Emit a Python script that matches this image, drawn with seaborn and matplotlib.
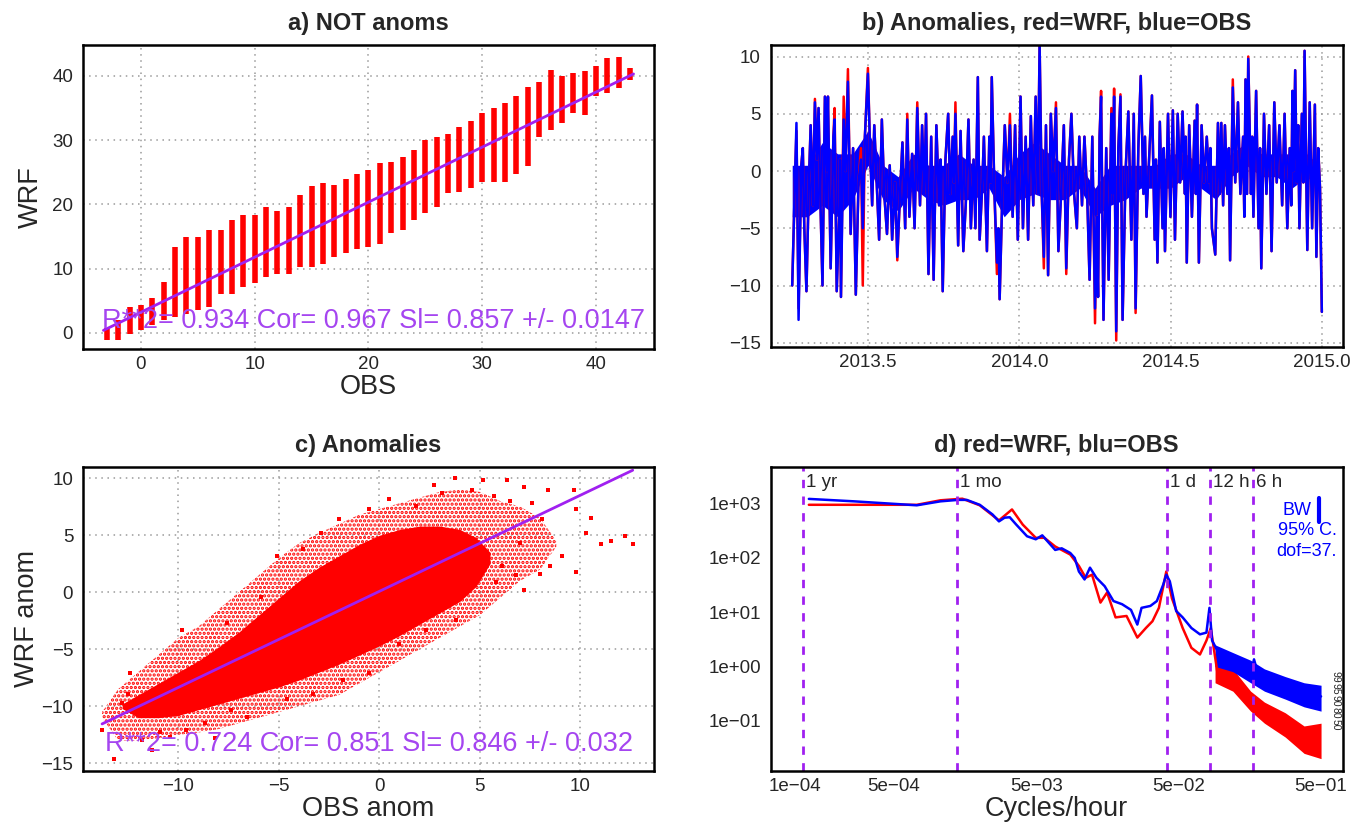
import numpy as np
import seaborn as sns
import matplotlib.pyplot as plt

# ---- panel a: raw values, one column of points per integer OBS value ----
a_obs = [-3, -2, -1, 0, 1, 2, 3, 4, 5, 6, 7, 8, 9, 10, 11, 12, 13, 14, 15, 16, 17, 18, 19, 20,
         21, 22, 23, 24, 25, 26, 27, 28, 29, 30, 31, 32, 33, 34, 35, 36, 37, 38, 39, 40, 41, 42, 43]
a_lo = [-1.1, -1.1, -0.1, 0.4, 1.2, 2.0, 2.5, 3.0, 3.5, 4.0, 6.1, 6.1, 7.2, 7.7, 8.7, 9.2, 9.2, 10.3,
        10.3, 10.8, 11.8, 12.4, 13.1, 13.4, 13.9, 15.5, 16.0, 17.6, 18.6, 19.6, 21.7, 22.0, 22.5, 23.5,
        23.5, 23.5, 24.8, 25.9, 30.5, 31.6, 32.6, 34.2, 33.9, 36.8, 37.3, 38.1, 39.4]
a_hi = [0.7, 2.0, 4.0, 4.3, 5.4, 8.0, 13.4, 14.9, 14.9, 16.0, 16.0, 17.6, 18.3, 18.3, 19.6, 19.0, 19.6,
        21.5, 22.8, 23.3, 23.0, 24.0, 24.8, 25.4, 26.4, 26.6, 27.4, 28.5, 30.0, 30.5, 31.0, 32.0, 33.0,
        34.2, 35.0, 35.7, 36.8, 38.3, 39.1, 40.9, 40.0, 40.4, 40.7, 41.5, 42.8, 43.0, 41.2]
a_fit_x = [-3.3, 43.3]
a_fit_y = [0.4, 40.3]
a_stats = "R**2= 0.934 Cor= 0.967 Sl= 0.857 +/- 0.0147"

# ---- panel b: anomaly time series (envelope of the hourly record) ----
b_time = [2013.250, 2013.258, 2013.264, 2013.271, 2013.280, 2013.285, 2013.290, 2013.297, 2013.305, 2013.311,
          2013.318, 2013.325, 2013.331, 2013.337, 2013.343, 2013.350, 2013.358, 2013.364, 2013.368, 2013.377,
          2013.386, 2013.390, 2013.397, 2013.406, 2013.408, 2013.411, 2013.420, 2013.426, 2013.434, 2013.443,
          2013.451, 2013.460, 2013.469, 2013.477, 2013.483, 2013.490, 2013.500, 2013.507, 2013.514, 2013.521,
          2013.529, 2013.537, 2013.546, 2013.554, 2013.563, 2013.572, 2013.580, 2013.590, 2013.597, 2013.606,
          2013.614, 2013.623, 2013.630, 2013.637, 2013.646, 2013.654, 2013.663, 2013.672, 2013.679, 2013.686,
          2013.692, 2013.700, 2013.709, 2013.717, 2013.726, 2013.735, 2013.740, 2013.747, 2013.756, 2013.765,
          2013.772, 2013.780, 2013.784, 2013.789, 2013.798, 2013.806, 2013.815, 2013.823, 2013.832, 2013.840,
          2013.849, 2013.855, 2013.863, 2013.869, 2013.878, 2013.883, 2013.893, 2013.901, 2013.905, 2013.909,
          2013.918, 2013.926, 2013.931, 2013.935, 2013.943, 2013.952, 2013.961, 2013.969, 2013.978, 2013.986,
          2013.995, 2014.004, 2014.012, 2014.021, 2014.029, 2014.038, 2014.046, 2014.054, 2014.061, 2014.067,
          2014.074, 2014.081, 2014.088, 2014.095, 2014.104, 2014.112, 2014.121, 2014.129, 2014.138, 2014.147,
          2014.155, 2014.164, 2014.172, 2014.181, 2014.190, 2014.198, 2014.207, 2014.215, 2014.224, 2014.232,
          2014.241, 2014.250, 2014.255, 2014.260, 2014.265, 2014.270, 2014.278, 2014.287, 2014.295, 2014.304,
          2014.308, 2014.313, 2014.320, 2014.327, 2014.334, 2014.341, 2014.351, 2014.360, 2014.370, 2014.378,
          2014.384, 2014.393, 2014.401, 2014.410, 2014.415, 2014.420, 2014.430, 2014.438, 2014.447, 2014.451,
          2014.456, 2014.464, 2014.473, 2014.477, 2014.481, 2014.491, 2014.499, 2014.507, 2014.514, 2014.523,
          2014.531, 2014.539, 2014.547, 2014.549, 2014.553, 2014.561, 2014.570, 2014.579, 2014.583, 2014.587,
          2014.593, 2014.602, 2014.610, 2014.619, 2014.627, 2014.631, 2014.636, 2014.647, 2014.656, 2014.662,
          2014.667, 2014.673, 2014.679, 2014.687, 2014.692, 2014.696, 2014.705, 2014.713, 2014.722, 2014.730,
          2014.739, 2014.743, 2014.747, 2014.752, 2014.756, 2014.765, 2014.769, 2014.773, 2014.782, 2014.790,
          2014.795, 2014.799, 2014.808, 2014.816, 2014.825, 2014.833, 2014.842, 2014.850, 2014.859, 2014.868,
          2014.876, 2014.885, 2014.893, 2014.898, 2014.902, 2014.906, 2014.911, 2014.916, 2014.921, 2014.925,
          2014.933, 2014.938, 2014.942, 2014.951, 2014.959, 2014.967, 2014.976, 2014.981, 2014.987, 2014.993,
          2014.999]
b_obs = [-10, -2, 4.2, -13, 0.5, 2, -5, -10.5, -1, 4,
         -3, 6, 1, 5.5, -2.5, -10, 6.5, 0, 6.5, -8.5,
         3, 4.5, -10.5, -3, 1, -11, 4.5, 0, 7.8, -5.5,
         2, -10.8, -1, 1, -5, 3, 8.5, 2, -3, 4,
         -1, -6, 4.5, -2, -5.5, 0.5, -6, -1, -7.5, -2,
         2.5, -5, 4.5, -4, 1.5, -5, 5.5, -3, 4, -2,
         5, -9, 3, -9.5, 4, -3, 1, -10.5, 1, 5,
         -2, 3, -1, 5, -6.5, 3.5, -7, -3, 4.5, -5,
         1, -5, 8.2, -6, -1, 3, -7, 3, -1, 8.2,
         -2, -8, -5, -11.2, -3, 4, -1, 4, -4, 4,
         -6, 6.5, -5, 3, -6, 4.8, -3, 6.5, -2, 11,
         -2, -7.5, 4, -9.1, 5, 0, 5.5, -7, -2, 4,
         -8.5, 1, 5, -2, -5, 3, -3, 3, -2, -9.5,
         3, -12, -4, -11, 3, 6.5, -13, 2, -9.5, 5,
         -2, 6.5, -14, 2, 6.5, -13, 0, 5.2, -6, 5,
         -12, 2, 8.3, -2, 3, -4, 2, 6.6, -6, 1,
         -8, 4.3, -5, 2, -7, 5, -4, 5.3, -6, 5,
         -1, 5.2, -2, 3, -8, 4, -4, 4.4, -2, 5.8,
         -8, 4, -1, 3, -1, 2, -5, -7.3, 4.2, -2,
         4.2, -3, 4, -2, 2, -7.8, 7.3, -1, 6, -2,
         3, -4, 8, -2, 9.8, -2, 3, -4, 7, -5,
         2, -8.5, 5, -2, 4, -7, 6, -1, 4, -3,
         5, -5, 2, -3, 7, 0, 8.8, -1, 4, -5,
         5, -1, 10.5, -6.9, 6, -5, 5.8, -7.5, 2, -1.5,
         -12.3]
b_wrf = [-10, -2, 3.5, -12, 0.5, 2, -5, -10.5, -1, 4,
         -3, 6.3, 1, 5.5, -2.5, -10, 6.5, 0, 6.5, -8.5,
         3, 5.5, -10.5, -3, 1, -11, 6.5, 0, 8.9, -5.5,
         2, -10.8, -1, 2, -10, 3, 9, 2, -3, 4,
         -1, -6, 4.5, -2, -5.5, 0.5, -6, -1, -7.8, -2,
         2.5, -5, 5, -4, 1.5, -5, 6, -3, 4, -2,
         5, -9, 3, -9.5, 4, -3, 1, -10.5, 1, 5,
         -2, 3, -1, 6, -6.5, 3.5, -7, -3, 4.5, -5,
         1, -5, 8.2, -6, -1, 3, -7, 3, -1, 8.2,
         -2, -9, -5, -11.2, -3, 4, -1, 5, -4, 4,
         -6, 6.5, -5, 3, -6, 4.8, -3, 6.5, -2, 11,
         -2, -8.5, 4, -9.1, 5, 0, 6, -7, -2, 4,
         -9, 1, 5, -2, -5, 3, -3, 3, -2, -9.5,
         3, -13.3, -4, -11, 3, 7, -13, 2, -9.5, 5.5,
         -2, 7.2, -14.8, 2, 6.7, -13, 0, 5.2, -6, 5,
         -12.4, 2, 8.3, -2, 3, -4, 2, 6.6, -6, 1,
         -8, 4.3, -5, 2, -7, 5, -4, 5.3, -6, 5,
         -1, 5.2, -2, 3, -8, 4, -4, 4.4, -2, 5.8,
         -8, 4, -1, 3, -1, 2, -5, -7.3, 4.2, -2,
         4.2, -3, 4, -2, 2, -7.8, 8, -1, 6, -2,
         3, -4, 8, -2, 10, -2, 3, -4, 7, -5,
         2, -8.5, 5, -2, 4, -7, 6, -1, 4, -3,
         5, -5, 2, -3, 7, 0, 8.8, -1, 4, -5,
         5, -1, 10.5, -6.9, 6, -5, 5.8, -7.5, 2, -1.5,
         -12.3]
# dense core of the hourly record (where the trace fills solid)
b_core_time = [2013.25, 2013.30, 2013.35, 2013.40, 2013.45, 2013.50, 2013.55, 2013.60, 2013.65, 2013.70,
               2013.75, 2013.80, 2013.85, 2013.90, 2013.95, 2014.00, 2014.05, 2014.10, 2014.15, 2014.20,
               2014.25, 2014.30, 2014.35, 2014.40, 2014.45, 2014.50, 2014.55, 2014.60, 2014.65, 2014.70,
               2014.75, 2014.80, 2014.85, 2014.90, 2014.95, 2014.99]
b_core_lo = [-4, -4, -3, -4, -2.5, 0.5, -2.5, -3.5, -1.5, -2.5,
             -3, -2.5, -2.5, -1.5, -4, -2.5, -2, -2.5, -2.5, -1.5,
             -4, -3, -2.5, -1.5, -1.5, -1.5, -0.5, -1.5, -2.5, -0.5,
             0.5, -0.5, -0.5, -1.5, -0.5, -1.5]
b_core_hi = [0.5, 0.5, 2.5, 1.5, 1.5, 3.5, 0.5, -0.5, 1.5, 0.5,
             0.5, 1.5, 0.5, 0.5, -0.5, 1.5, 2.5, 1.5, 0.5, 0.5,
             -1.5, 0.5, 0.5, 0.5, 0.5, 1.5, 1.5, 0.5, 0.5, 1.5,
             2.5, 1.5, 1.5, 1.5, 1.5, 0.5]

# ---- panel c: anomaly scatter (cloud envelopes + scattered points) ----
c_outer_x = [-13.8, -13, -12, -11, -10, -9, -8, -7, -6, -5, -4, -3, -2, -1, 0, 1, 2, 3, 4, 5, 6, 7, 8,
             8.8]
c_outer_lo = [-11, -13, -13, -12.8, -12.5, -12.3, -12, -11.5, -11, -10.5, -10, -9.5, -9, -8, -7, -6, -5,
              -4, -3, -2, -0.5, 1, 2, 4]
c_outer_hi = [-10.5, -8.5, -7, -5.5, -4, -3, -1.5, 0, 1.5, 3, 4.3, 5.2, 6, 6.8, 7.3, 7.8, 8.3, 8.8, 9,
              8.8, 8, 7.5, 6.5, 4.5]
c_core_x = [-12.8, -12, -11, -10, -9, -8, -7, -6, -5, -4, -3, -2, -1, 0, 1, 2, 3, 4, 4.8, 5.5]
c_core_lo = [-10.2, -11, -11, -10.8, -10.3, -9.8, -9.3, -8.8, -8.3, -7.7, -7, -6.3, -5.5, -4.7, -3.8,
             -2.8, -1.8, -0.8, 0.5, 2.5]
c_core_hi = [-9.8, -9, -8, -7, -6, -4.8, -3.5, -2, -0.5, 1, 2.2, 3.2, 4.2, 5, 5.5, 5.8, 5.8, 5.5, 4.8,
             3.5]
c_pts_x = [3.76, 5.16, 6.34, 2.69, 3.12, 7.2, 8.4, 9.7, 9.8, 10.5, 10.3, 11.0, 11.5, 12.2, 12.6,
           9.1, 9.8, 8.5, 8.0, 7.2, 8.1, 7.0, 6.1, 2.3, 3.8, 0.97, -0.5, -1.8, -3.3, -4.6,
           -6.6, -7.4, -8.7, -9.6, -10.4, -11.3, -13.2, -13.8, -12.8, -12.4, -12.5, -9.8, -7.6, -5.9, -5.1,
           -3.8, -2.9, -2.0, -0.5, 0.5, 1.8, 4.6, 5.7, 6.5, 7.6, 5.8, 6.8, -11.8, -10.9, -8.2]
c_pts_y = [10.0, 9.8, 9.8, 9.4, 8.7, 9.2, 9.0, 9.0, 7.3, 6.5, 5.2, 4.2, 4.5, 4.9, 4.2,
           3.2, 1.8, 2.3, 1.6, 0.2, 6.4, 4.3, 2.3, -3.3, -2.4, -4.5, -7.1, -7.7, -8.9, -9.4,
           -10.9, -10.3, -11.5, -12.1, -12.7, -13.8, -14.6, -12.1, -9.7, -7.1, -8.9, -3.3, -2.7, -0.4, 3.2,
           3.8, 5.2, 6.4, 7.3, 8.2, 7.6, 9.0, 8.4, 8.0, 7.8, 0.9, 1.5, -13.0, -12.3, -12.8]
c_fit_x = [-13.8, 12.6]
c_fit_y = [-11.55, 10.7]
c_stats = "R**2= 0.724 Cor= 0.851 Sl= 0.846 +/- 0.032"

# ---- panel d: spectra ----
d_f_obs = [1.26e-4, 2.62e-4, 5.28e-4, 7.23e-4, 1.06e-3, 1.41e-3, 1.62e-3, 2.00e-3, 2.46e-3, 2.73e-3,
           2.99e-3, 3.25e-3, 3.61e-3, 4.30e-3, 4.95e-3, 5.50e-3, 6.11e-3, 6.78e-3, 7.53e-3, 8.65e-3,
           9.29e-3, 9.95e-3, 1.09e-2, 1.19e-2, 1.32e-2, 1.51e-2, 1.74e-2, 2.00e-2, 2.31e-2, 2.56e-2,
           2.74e-2, 3.16e-2, 3.51e-2, 3.89e-2, 4.09e-2, 4.33e-2, 4.80e-2, 5.33e-2, 6.14e-2, 7.05e-2,
           7.83e-2, 8.22e-2, 8.58e-2, 9.66e-2, 0.115, 0.128, 0.142, 0.163, 0.169, 0.181,
           0.216, 0.286, 0.378, 0.5]
d_p_obs = [1220, 1100, 980, 930, 1100, 1170, 1170, 950, 630, 470,
           550, 560, 410, 250, 220, 260, 190, 140, 150, 123,
           100, 56, 40, 66, 43, 30, 16, 14, 11, 5.9,
           12, 13, 16, 32, 49, 37, 10.5, 8, 5.1, 3.9,
           4.2, 12, 3.0, 1.66, 1.45, 1.35, 0.95, 0.89, 1.35, 0.71,
           0.54, 0.41, 0.30, 0.28]
d_f_wrf = [1.26e-4, 2.62e-4, 7.23e-4, 1.06e-3, 1.51e-3, 2.00e-3, 2.73e-3, 3.37e-3, 4.01e-3, 4.95e-3,
           5.69e-3, 6.78e-3, 8.65e-3, 9.95e-3, 1.11e-2, 1.23e-2, 1.41e-2, 1.57e-2, 1.80e-2, 2.15e-2,
           2.56e-2, 2.94e-2, 3.27e-2, 3.63e-2, 4.09e-2, 4.48e-2, 5.33e-2, 6.14e-2, 7.05e-2, 7.83e-2,
           8.40e-2, 9.33e-2, 0.107, 0.128, 0.142, 0.163, 0.216, 0.286, 0.378, 0.483]
d_p_wrf = [950, 950, 950, 1150, 1230, 930, 490, 780, 410, 234,
           234, 162, 115, 71, 43, 49, 15, 23, 8, 8.5,
           3.4, 5.1, 6.8, 12, 56, 18, 5.1, 2.2, 1.66, 3.0,
           5.1, 0.8, 0.7, 0.6, 0.26, 0.2, 0.115, 0.056, 0.036, 0.032]
# high-frequency noise envelopes
d_band_f = [0.09, 0.12, 0.16, 0.2, 0.28, 0.38, 0.5]
d_band_obs_lo = [1.0, 0.8, 0.5, 0.35, 0.25, 0.18, 0.15]
d_band_obs_hi = [2.5, 1.8, 1.3, 0.9, 0.65, 0.5, 0.45]
d_band_wrf_lo = [0.5, 0.35, 0.15, 0.09, 0.05, 0.025, 0.02]
d_band_wrf_hi = [1.2, 0.9, 0.35, 0.22, 0.14, 0.08, 0.09]
period_hours = [8760, 720, 24, 12, 6]
period_labels = ["1 yr", "1 mo", "1 d", "12 h", "6 h"]
ci_labels = ["99", "95", "90", "80", "50"]

PURPLE = "#A020F0"
TXT_PURPLE = "#A545F0"
GRID = dict(color="#9a9a9a", linestyle=(0, (1, 3)), linewidth=1.1)
TITLE_FS = 17
TICK_FS = 13.5
LABEL_FS = 19.5

sns.set_style("white")
plt.rcParams["font.family"] = ["Liberation Sans", "DejaVu Sans"]
plt.rcParams["axes.unicode_minus"] = True
plt.rcParams["hatch.linewidth"] = 1.6

fig = plt.figure(figsize=(13.6, 8.27), dpi=100)
ax_a = fig.add_axes([0.0610, 0.578, 0.4199, 0.3676])
ax_b = fig.add_axes([0.5667, 0.580, 0.4206, 0.3655])
ax_c = fig.add_axes([0.0610, 0.0681, 0.4199, 0.3669])
ax_d = fig.add_axes([0.5667, 0.0681, 0.4206, 0.3669])


def style_axes(ax, grid=True):
    for sp in ax.spines.values():
        sp.set_visible(True)
        sp.set_linewidth(1.8)
        sp.set_color("black")
    ax.tick_params(axis="y", direction="out", length=5, width=1.2, labelsize=TICK_FS, pad=2)
    ax.tick_params(axis="x", direction="in", length=5, width=1.2, labelsize=TICK_FS, pad=5)
    if grid:
        ax.grid(True, **GRID)
    ax.set_axisbelow(True)


# a) raw scatter
style_axes(ax_a)
ax_a.vlines(a_obs, a_lo, a_hi, colors="red", linewidth=4)
sns.lineplot(x=a_fit_x, y=a_fit_y, color=PURPLE, lw=2, ax=ax_a)
ax_a.set_xlim(-5.1, 45.1)
ax_a.set_ylim(-2.5, 44.8)
ax_a.set_xticks([0, 10, 20, 30, 40])
ax_a.set_yticks([0, 10, 20, 30, 40])
ax_a.text(-3.4, 1.8, a_stats, color=TXT_PURPLE, fontsize=19.5, ha="left", va="center")
ax_a.set_xlabel("OBS", fontsize=LABEL_FS, labelpad=1)
ax_a.set_ylabel("WRF", fontsize=LABEL_FS, labelpad=6)
ax_a.set_title("a) NOT anoms", fontsize=TITLE_FS, fontweight="bold", pad=11)

# b) time series
style_axes(ax_b)
sns.lineplot(x=b_time, y=b_wrf, color="red", lw=1.8, ax=ax_b, estimator=None, sort=False)
ax_b.fill_between(b_core_time, b_core_lo, b_core_hi, color="blue", lw=0)
sns.lineplot(x=b_time, y=b_obs, color="blue", lw=1.8, ax=ax_b, estimator=None, sort=False)
ax_b.set_xlim(2013.179, 2015.068)
ax_b.set_ylim(-15.4, 11.0)
ax_b.set_xticks([2013.5, 2014.0, 2014.5, 2015.0])
ax_b.set_xticklabels(["2013.5", "2014.0", "2014.5", "2015.0"])
ax_b.set_yticks([-15, -10, -5, 0, 5, 10])
ax_b.set_title("b) Anomalies, red=WRF, blue=OBS", fontsize=TITLE_FS, fontweight="bold", pad=11)

# c) anomaly scatter
style_axes(ax_c)
ax_c.fill_between(c_outer_x, c_outer_lo, c_outer_hi, facecolor="none", edgecolor="red",
                  hatch="....", lw=0)
ax_c.fill_between(c_core_x, c_core_lo, c_core_hi, color="red", lw=0)
sns.scatterplot(x=c_pts_x, y=c_pts_y, color="red", marker="s", s=5, linewidth=0, ax=ax_c)
sns.lineplot(x=c_fit_x, y=c_fit_y, color=PURPLE, lw=2, ax=ax_c)
ax_c.set_xlim(-14.75, 13.66)
ax_c.set_ylim(-15.65, 10.96)
ax_c.set_xticks([-10, -5, 0, 5, 10])
ax_c.set_yticks([-15, -10, -5, 0, 5, 10])
ax_c.text(-13.65, -13.3, c_stats, color=TXT_PURPLE, fontsize=19.5, ha="left", va="center")
ax_c.set_xlabel("OBS anom", fontsize=LABEL_FS, labelpad=1)
ax_c.set_ylabel("WRF anom", fontsize=LABEL_FS, labelpad=1)
ax_c.set_title("c) Anomalies", fontsize=TITLE_FS, fontweight="bold", pad=11)

# d) spectra
style_axes(ax_d, grid=False)
ax_d.set_xscale("log")
ax_d.set_yscale("log")
ax_d.fill_between(d_band_f, d_band_wrf_lo, d_band_wrf_hi, color="red", lw=0)
sns.lineplot(x=d_f_wrf, y=d_p_wrf, color="red", lw=1.8, ax=ax_d, estimator=None, sort=False)
ax_d.fill_between(d_band_f, d_band_obs_lo, d_band_obs_hi, color="blue", lw=0)
sns.lineplot(x=d_f_obs, y=d_p_obs, color="blue", lw=1.8, ax=ax_d, estimator=None, sort=False)
ax_d.set_xlim(6.8e-5, 0.71)
ax_d.set_ylim(0.012, 4670)
ax_d.set_xticks([1e-4, 5e-4, 1e-3, 5e-3, 1e-2, 5e-2, 1e-1, 5e-1])
ax_d.set_xticklabels(["1e\u221204", "5e\u221204", "", "5e\u221203", "", "5e\u221202", "", "5e\u221201"])
ax_d.set_yticks([1e-1, 1e0, 1e1, 1e2, 1e3])
ax_d.set_yticklabels(["1e\u221201", "1e+00", "1e+01", "1e+02", "1e+03"])
ax_d.minorticks_off()
for hrs, lab in zip(period_hours, period_labels):
    ax_d.axvline(1.0 / hrs, color=PURPLE, lw=2, linestyle=(0, (3, 3)))
    ax_d.annotate(lab, xy=(1.0 / hrs, 0.95), xycoords=("data", "axes fraction"),
                  xytext=(2, 0), textcoords="offset points", fontsize=13.5,
                  ha="left", va="center")
ax_d.text(0.894, 0.859, "BW", color="blue", fontsize=13, transform=ax_d.transAxes,
          ha="left", va="center")
ax_d.plot([0.958, 0.958], [0.82, 0.90], color="blue", lw=3, transform=ax_d.transAxes)
ax_d.text(0.886, 0.793, "95% C.", color="blue", fontsize=13, transform=ax_d.transAxes,
          ha="left", va="center", clip_on=True)
ax_d.text(0.884, 0.721, "dof=37.", color="blue", fontsize=13, transform=ax_d.transAxes,
          ha="left", va="center", clip_on=True)
for k, lab in enumerate(ci_labels):
    ax_d.text(0.988, 0.31 - 0.04 * k, lab, rotation=-90, fontsize=7.5, transform=ax_d.transAxes,
              ha="center", va="center")
ax_d.set_xlabel("Cycles/hour", fontsize=LABEL_FS, labelpad=1)
ax_d.set_title("d) red=WRF, blu=OBS", fontsize=TITLE_FS, fontweight="bold", pad=11)

fig.savefig("out.png", dpi=100)
plt.close(fig)
